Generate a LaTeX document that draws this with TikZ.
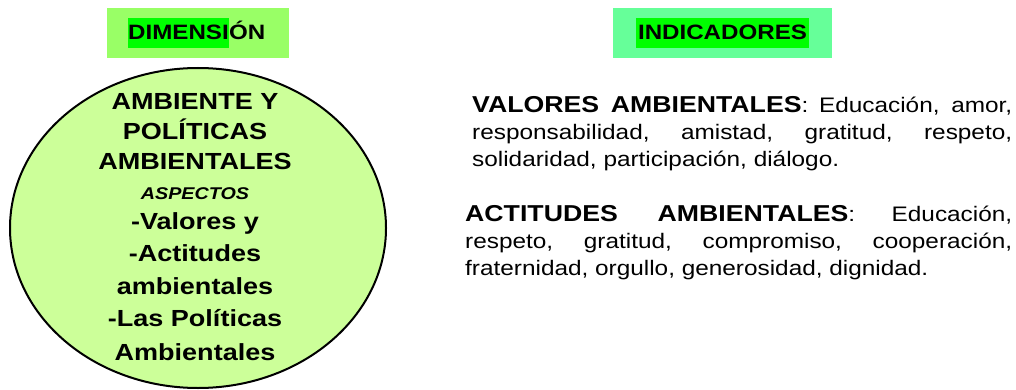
\documentclass[tikz,border=0pt]{standalone}
\usepackage{fontspec}
\setmainfont{Liberation Sans}[FakeStretch=1.16]
\usepackage{tikz}
\usetikzlibrary{shapes.geometric,positioning}
\definecolor{verdeClaro}{RGB}{153,255,102}
\definecolor{verdeMenta}{RGB}{102,255,153}
\definecolor{verdeBrillo}{RGB}{0,255,0}
\definecolor{verdePalido}{RGB}{204,255,153}
\tolerance=10000
\hbadness=10000
\tikzstyle{caja}=[rectangle, minimum height=50pt, inner sep=0pt]
\tikzstyle{resalte}=[fill=verdeBrillo, inner ysep=0pt,
                    text height=22pt, text depth=8pt,
                    font=\bfseries\fontsize{20.8}{24}\selectfont]
\tikzstyle{parrafo}=[align=justify, inner sep=0pt, anchor=north west,
                    font=\fontsize{21}{27}\selectfont]
\tikzstyle{eje}=[ellipse, draw, line width=2pt, fill=verdePalido,
                    minimum width=376pt, minimum height=320pt]
\newcommand{\titulo}[1]{{\fontsize{23}{27}\selectfont\bfseries #1}}

\begin{document}
\begin{tikzpicture}[x=1pt,y=-1pt]
    \useasboundingbox (0,0) rectangle (1016,390);

    % encabezados
    \node (dimcaja) [caja, fill=verdeClaro, minimum width=182pt] at (198,33) {};
    \node (dimres) [resalte, inner xsep=0pt, anchor=base west] at (128,40) {DIMENSI};
    \node (dimfin) [anchor=base west, inner sep=0pt,
        font=\bfseries\fontsize{20.8}{24}\selectfont] at (dimres.base east) {ÓN};

    \node (indcaja) [caja, fill=verdeMenta, minimum width=219pt] at (722.5,33) {};
    \node (indres) [resalte, inner xsep=2pt, anchor=base] at (722.5,40) {INDICADORES};

    % dimension
    \node (circulo) [eje] at (198,228) {};
    \node (circtexto) [align=center, inner sep=0pt,
        font=\bfseries\fontsize{23.3}{30}\selectfont] at (195,227)
        {AMBIENTE Y\\ POLÍTICAS\\ AMBIENTALES\\
         {\itshape\fontsize{17}{30}\selectfont ASPECTOS}\\
         -Valores y\\[2pt] -Actitudes\\[3pt] ambientales\\[2pt]
         -Las Políticas\\[4pt] Ambientales};

    % indicadores
    \node (valores) [parrafo, text width=540pt] at (472,96)
        {\titulo{VALORES AMBIENTALES}: Educación, amor,\linebreak
         responsabilidad, amistad, gratitud, respeto,\linebreak
         solidaridad, participación, diálogo.};
    \node (actitudes) [parrafo, text width=547pt] at (465,205)
        {\titulo{ACTITUDES AMBIENTALES}: Educación,\linebreak
         respeto, gratitud, compromiso, cooperación,\linebreak
         fraternidad, orgullo, generosidad, dignidad.};

\end{tikzpicture}
\end{document}
